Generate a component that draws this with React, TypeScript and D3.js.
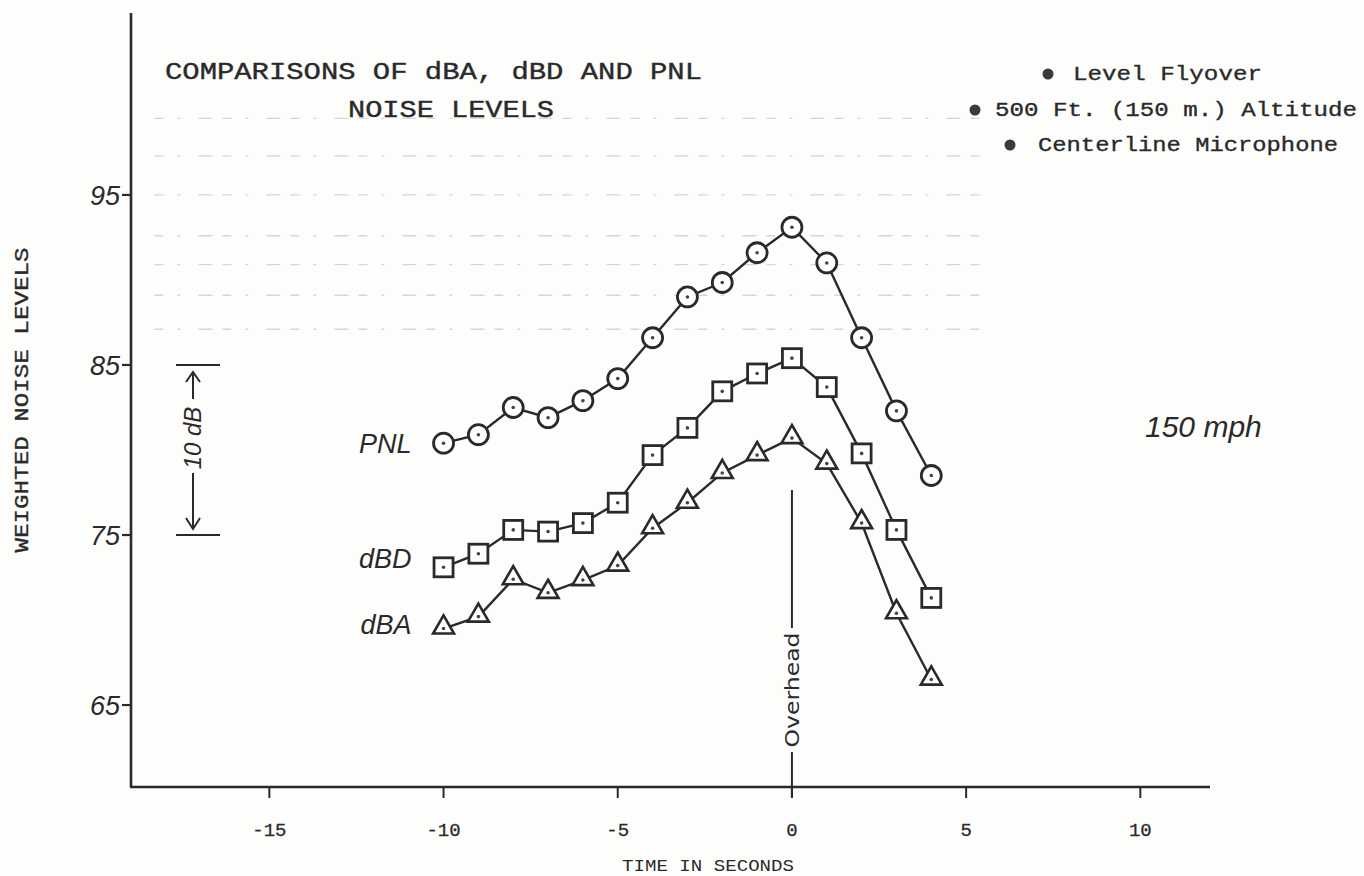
import React, { useEffect, useRef } from 'react';
import * as d3 from 'd3';

// time relative to overhead, seconds
const seconds = [-10, -9, -8, -7, -6, -5, -4, -3, -2, -1, 0, 1, 2, 3, 4];
const pnlLevels = [80.4, 80.9, 82.5, 81.9, 82.9, 84.2, 86.6, 89.0, 89.85, 91.6, 93.1, 91.0, 86.6, 82.3, 78.5];
const dbdLevels = [73.1, 73.9, 75.3, 75.2, 75.7, 76.9, 79.7, 81.3, 83.45, 84.5, 85.4, 83.7, 79.8, 75.3, 71.3];
const dbaLevels = [69.5, 70.2, 72.4, 71.6, 72.35, 73.2, 75.4, 76.9, 78.65, 79.7, 80.7, 79.2, 75.7, 70.4, 66.5];

const xTicks = [-15, -10, -5, 0, 5, 10];
const yTicks = [95, 85, 75, 65];
// faint ruled lines showing through the scanned page
const ruledLevels = [99.5, 97.3, 95, 92.6, 90.9, 89.1, 87.1];

const titleLines = ['COMPARISONS OF dBA, dBD AND PNL', 'NOISE LEVELS'];
const notes = ['Level Flyover', '500 Ft. (150 m.) Altitude', 'Centerline Microphone'];

const MONO = "'Liberation Mono', 'DejaVu Sans Mono', monospace";
const HAND = "'Liberation Sans', 'DejaVu Sans', sans-serif";
const INK = '#2a2a2a';

const W = 1364;
const H = 876;

const App: React.FC = () => {
    const ref = useRef<SVGSVGElement | null>(null);

    useEffect(() => {
        if (!ref.current) return;
        const svg = d3.select(ref.current);
        svg.selectAll('*').remove();

        const x = d3.scaleLinear().domain([-19, 12]).range([130, 1210]);
        const y = d3.scaleLinear().domain([60.18, 105.7]).range([787, 13]);

        svg.append('rect').attr('width', W).attr('height', H).attr('fill', '#fdfdfc');

        // faint ruled lines
        svg.append('g')
            .selectAll('line')
            .data(ruledLevels)
            .enter().append('line')
            .attr('x1', x(-18.3)).attr('x2', x(5.6))
            .attr('y1', d => y(d)).attr('y2', d => y(d))
            .attr('stroke', '#d6d6d6')
            .attr('stroke-width', 1.3)
            .attr('stroke-dasharray', '9 14 3 18 14 10');

        // axes
        const axes = svg.append('g').attr('stroke', INK).attr('stroke-width', 2.6);
        axes.append('line').attr('x1', x(-19) + 1).attr('x2', x(-19) + 1).attr('y1', y(105.7)).attr('y2', y(60.18));
        axes.append('line').attr('x1', x(-19)).attr('x2', x(12)).attr('y1', y(60.18)).attr('y2', y(60.18));

        axes.selectAll('.xt')
            .data(xTicks)
            .enter().append('line')
            .attr('x1', d => x(d)).attr('x2', d => x(d))
            .attr('y1', y(60.18)).attr('y2', y(60.18) + 11)
            .attr('stroke-width', 2);

        axes.selectAll('.yt')
            .data(yTicks)
            .enter().append('line')
            .attr('x1', x(-19) - 8).attr('x2', x(-19) + 1)
            .attr('y1', d => y(d)).attr('y2', d => y(d))
            .attr('stroke-width', 2.2);

        svg.selectAll('.xl')
            .data(xTicks)
            .enter().append('text')
            .attr('x', d => x(d))
            .attr('y', 836)
            .attr('text-anchor', 'middle')
            .attr('font-family', MONO)
            .attr('font-size', 19)
            .attr('fill', INK)
            .attr('stroke', INK)
            .attr('stroke-width', 0.3)
            .text(d => (d < 0 ? '-' + Math.abs(d) : String(d)));

        svg.selectAll('.yl')
            .data(yTicks)
            .enter().append('text')
            .attr('x', x(-19) - 10)
            .attr('y', d => y(d) + 10)
            .attr('text-anchor', 'end')
            .attr('font-family', HAND)
            .attr('font-style', 'italic')
            .attr('font-size', 27)
            .attr('fill', INK)
            .text(d => String(d));

        svg.append('text')
            .attr('x', 708).attr('y', 871)
            .attr('text-anchor', 'middle')
            .attr('font-family', MONO)
            .attr('font-size', 17)
            .attr('textLength', 172)
            .attr('lengthAdjust', 'spacingAndGlyphs')
            .attr('fill', INK)
            .text('TIME IN SECONDS');

        svg.append('text')
            .attr('transform', 'translate(28,400) rotate(-90)')
            .attr('text-anchor', 'middle')
            .attr('font-family', MONO)
            .attr('font-size', 20)
            .attr('textLength', 305)
            .attr('lengthAdjust', 'spacingAndGlyphs')
            .attr('fill', INK)
            .attr('stroke', INK)
            .attr('stroke-width', 0.35)
            .text('WEIGHTED NOISE LEVELS');

        // title
        const titleX = [165, 348];
        const titleY = [79, 117];
        const titleW = [537, 206];
        svg.selectAll('.title')
            .data(titleLines)
            .enter().append('text')
            .attr('x', (_, i) => titleX[i])
            .attr('y', (_, i) => titleY[i])
            .attr('font-family', MONO)
            .attr('font-size', 24)
            .attr('textLength', (_, i) => titleW[i])
            .attr('lengthAdjust', 'spacingAndGlyphs')
            .attr('fill', INK)
            .attr('stroke', INK)
            .attr('stroke-width', 0.4)
            .text(d => d);

        // notes top right
        const noteX = [1073, 995, 1038];
        const noteY = [80, 116, 151];
        const noteW = [189, 362, 300];
        const noteDot = [1048, 975, 1010];
        const notesG = svg.append('g');
        notesG.selectAll('circle')
            .data(notes)
            .enter().append('circle')
            .attr('cx', (_, i) => noteDot[i])
            .attr('cy', (_, i) => noteY[i] - 6)
            .attr('r', 5.5)
            .attr('fill', '#3a3a3a');
        notesG.selectAll('text')
            .data(notes)
            .enter().append('text')
            .attr('x', (_, i) => noteX[i])
            .attr('y', (_, i) => noteY[i])
            .attr('font-family', MONO)
            .attr('font-size', 21)
            .attr('textLength', (_, i) => noteW[i])
            .attr('lengthAdjust', 'spacingAndGlyphs')
            .attr('fill', INK)
            .attr('stroke', INK)
            .attr('stroke-width', 0.35)
            .text(d => d);

        // 10 dB bracket
        const br = svg.append('g').attr('stroke', INK).attr('stroke-width', 2).attr('fill', 'none');
        [85, 75].forEach(v => {
            br.append('line').attr('x1', 176).attr('x2', 220).attr('y1', y(v)).attr('y2', y(v));
        });
        br.append('line').attr('x1', 193).attr('x2', 193).attr('y1', y(85) + 8).attr('y2', y(85) + 34);
        br.append('path').attr('d', `M186,${y(85) + 17} L193,${y(85) + 7} L200,${y(85) + 17}`);
        br.append('line').attr('x1', 193).attr('x2', 193).attr('y1', y(75) - 62).attr('y2', y(75) - 7);
        br.append('path').attr('d', `M186,${y(75) - 17} L193,${y(75) - 6} L200,${y(75) - 17}`);
        svg.append('text')
            .attr('transform', `translate(201,${(y(85) + y(75)) / 2 - 12}) rotate(-90)`)
            .attr('text-anchor', 'middle')
            .attr('font-family', HAND)
            .attr('font-style', 'italic')
            .attr('font-size', 24)
            .attr('fill', INK)
            .text('10 dB');

        // overhead marker
        const oh = svg.append('g').attr('stroke', INK).attr('stroke-width', 2);
        oh.append('line').attr('x1', x(0)).attr('x2', x(0)).attr('y1', 490).attr('y2', 628);
        oh.append('line').attr('x1', x(0)).attr('x2', x(0)).attr('y1', 752).attr('y2', 798);
        svg.append('text')
            .attr('transform', `translate(${x(0) + 7},690) rotate(-90)`)
            .attr('text-anchor', 'middle')
            .attr('font-family', "'DejaVu Sans', sans-serif")
            .attr('font-size', 19)
            .attr('textLength', 115)
            .attr('lengthAdjust', 'spacingAndGlyphs')
            .attr('fill', INK)
            .text('Overhead');

        // series
        const series = [
            { name: 'PNL', values: pnlLevels, shape: 'circle', dy: 10 },
            { name: 'dBD', values: dbdLevels, shape: 'square', dy: 1 },
            { name: 'dBA', values: dbaLevels, shape: 'triangle', dy: 5 },
        ];
        const line = d3.line<number>()
            .x((_, i) => x(seconds[i]))
            .y(d => y(d));
        const tri = d3.symbol().type(d3.symbolTriangle).size(190);

        series.forEach(s => {
            const g = svg.append('g');
            g.append('path')
                .attr('d', line(s.values) as string)
                .attr('fill', 'none')
                .attr('stroke', INK)
                .attr('stroke-width', 2.4);

            const pts = g.selectAll('.pt')
                .data(s.values)
                .enter().append('g')
                .attr('transform', (d, i) => `translate(${x(seconds[i])},${y(d)})`);

            if (s.shape === 'circle') {
                pts.append('circle').attr('r', 10).attr('fill', '#fff').attr('stroke', INK).attr('stroke-width', 2.8);
            } else if (s.shape === 'square') {
                pts.append('rect').attr('x', -9.5).attr('y', -9.5).attr('width', 19).attr('height', 19)
                    .attr('fill', '#fff').attr('stroke', INK).attr('stroke-width', 2.8);
            } else {
                pts.append('path').attr('d', tri() as string).attr('transform', 'translate(0,-1)')
                    .attr('fill', '#fff').attr('stroke', INK).attr('stroke-width', 2.6);
            }
            pts.append('circle').attr('r', 1.8).attr('fill', '#444');

            svg.append('text')
                .attr('x', x(seconds[0]) - 32)
                .attr('y', y(s.values[0]) + s.dy)
                .attr('text-anchor', 'end')
                .attr('font-family', HAND)
                .attr('font-style', 'italic')
                .attr('font-size', 27)
                .attr('fill', INK)
                .text(s.name);
        });

        svg.append('text')
            .attr('x', 1145).attr('y', 437)
            .attr('font-family', HAND)
            .attr('font-style', 'italic')
            .attr('font-size', 30)
            .attr('fill', INK)
            .text('150 mph');
    }, []);

    return (
        <svg
            ref={ref}
            width={W}
            height={H}
            style={{ position: 'absolute', left: 0, top: 0, display: 'block' }}
        />
    );
};

export default App;
